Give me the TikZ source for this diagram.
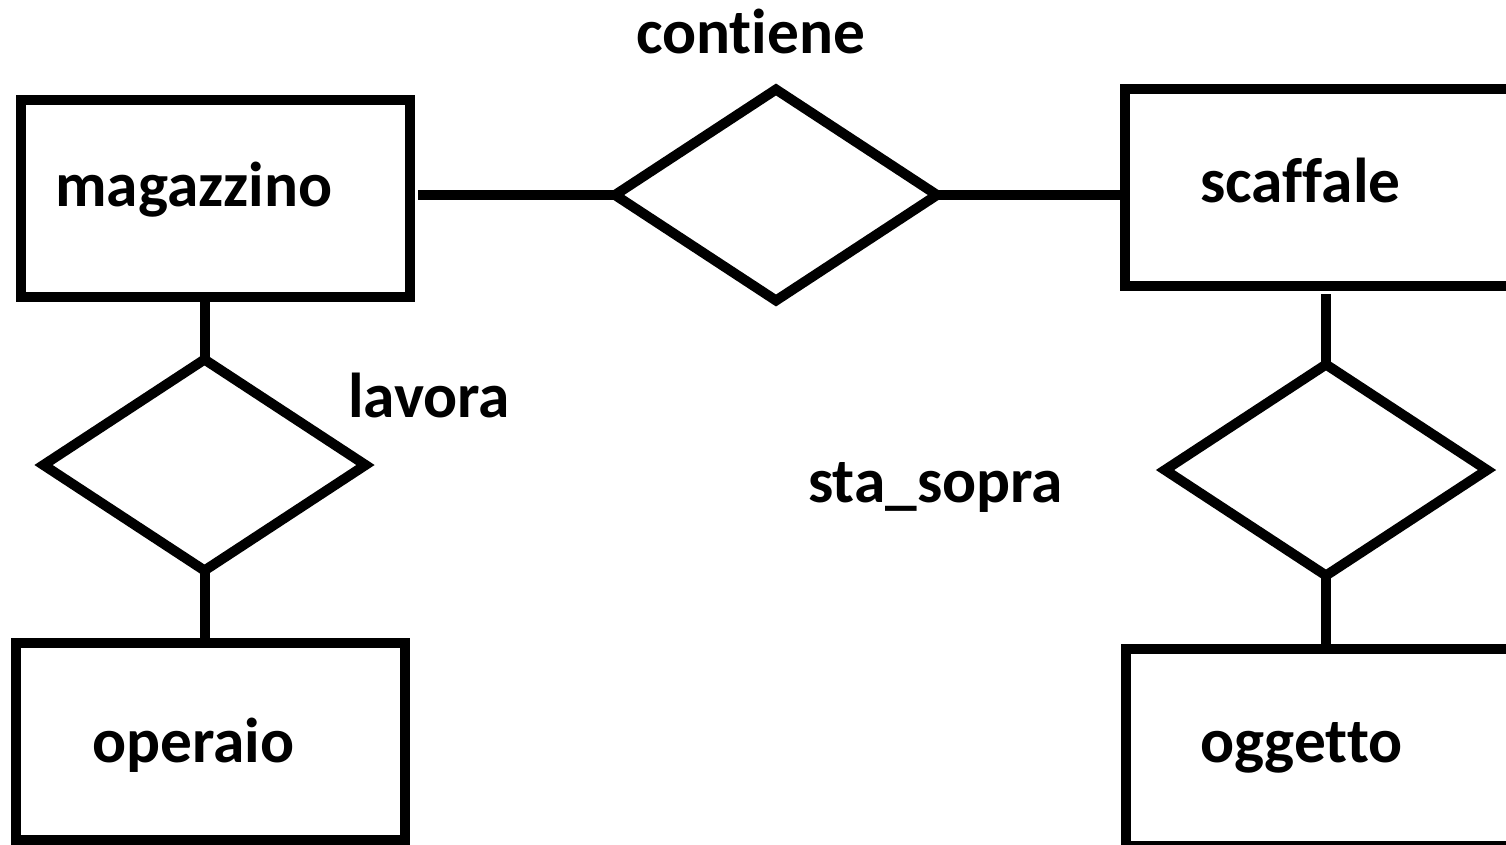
\documentclass[tikz,border=0pt]{standalone}
\usepackage{fontspec}
\setmainfont{Carlito}[Ligatures={NoCommon,NoRequired,NoContextual}]
\usetikzlibrary{shapes.geometric}
\begin{document}
\begin{tikzpicture}[x=1pt,y=-1pt,
  entity/.style={draw,rectangle,line width=10pt,inner sep=0pt,outer sep=0pt,minimum width=#1,minimum height=197pt},
  rel/.style={draw,diamond,line width=10pt,inner sep=0pt,outer sep=0pt,minimum width=322pt,minimum height=211pt},
  lbl/.style={anchor=base west,inner sep=0pt,font=\fontsize{63.4}{70}\selectfont\bfseries},
  conn/.style={line width=10pt}]
\useasboundingbox (0,0) rectangle (1506,845);
\fill[white] (0,0) rectangle (1506,845);
\clip (0,0) rectangle (1506,845);
% entities
\node[entity=389pt] (mag) at (215.5,198.5) {};
\node[entity=389pt] (ope) at (210.5,741.5) {};
\node[entity=395pt] (scaf) at (1322.5,187.5) {};
\node[entity=394pt] (ogg) at (1323,747) {};
% relationships
\node[rel] (con) at (776,195) {};
\node[rel] (lav) at (204.5,465) {};
\node[rel] (sta) at (1326,470) {};
% labels
\node[lbl] (tmag) at (55,207) {magazzino};
\node[lbl] (tope) at (92,762) {operaio};
\node[lbl] (tscaf) at (1200,203) {scaffale};
\node[lbl] (togg) at (1200,762) {oggetto};
\node[lbl] (tcon) at (636,54) {contiene};
\node[lbl] (tlav) at (348,417) {lavora};
\node[lbl] (tsta) at (808,502) {sta\_sopra};
% connectors
\draw[conn] ([xshift=8pt]con.west -| mag.east) -- (con.west);
\draw[conn] (con.east) -- (con.east -| scaf.west);
\draw[conn] (mag.south -| lav.north) -- (lav.north);
\draw[conn] (lav.south) -- (lav.south |- ope.north);
\draw[conn] ([yshift=-8pt]sta.north |- scaf.south) -- (sta.north);
\draw[conn] (sta.south) -- (sta.south |- ogg.north);
\end{tikzpicture}
\end{document}
